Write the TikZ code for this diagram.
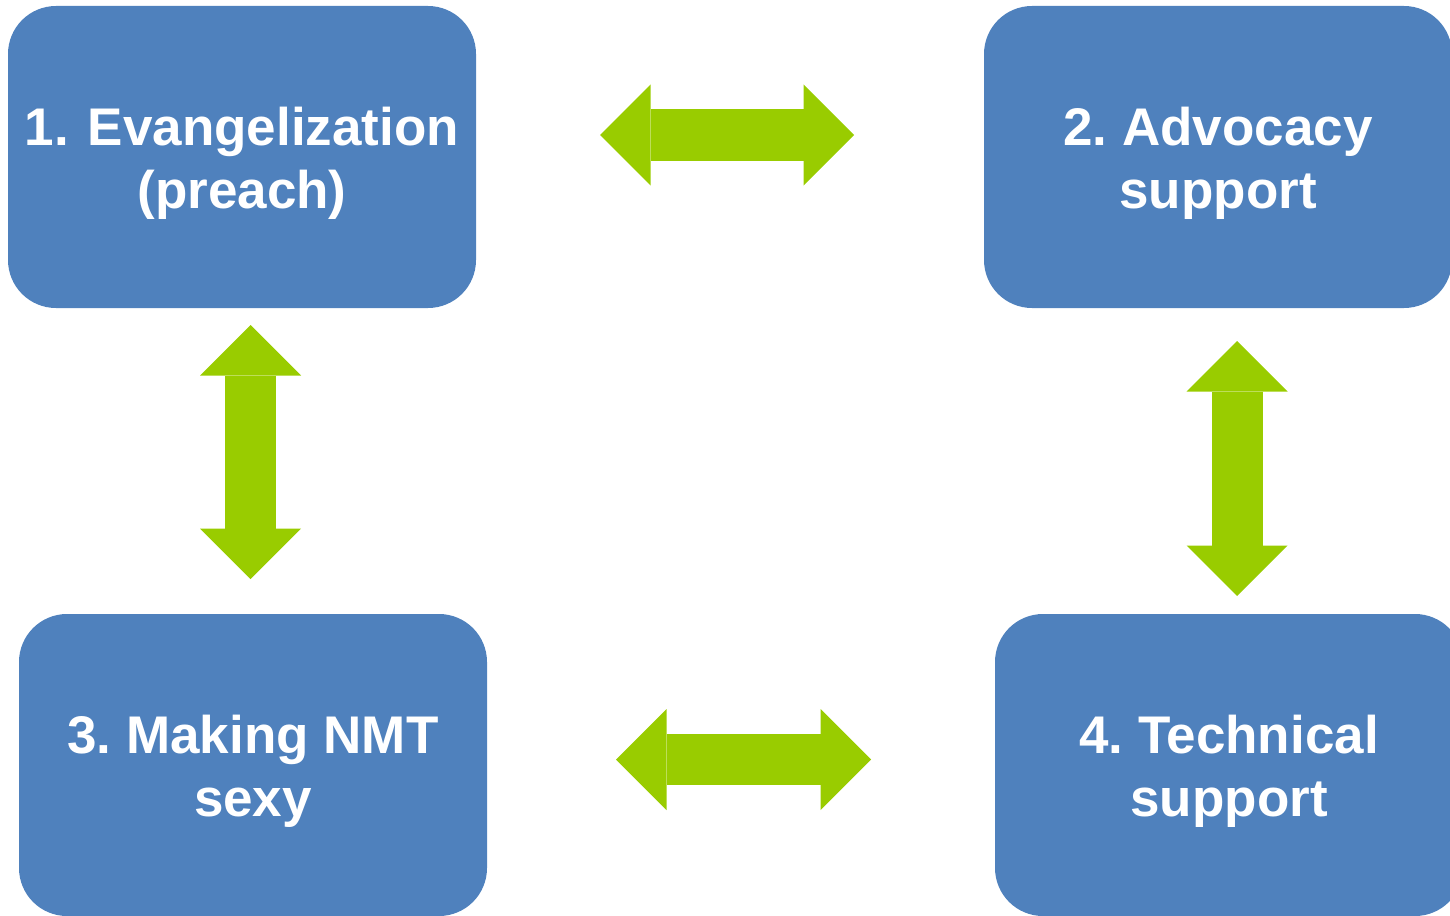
\documentclass[tikz,border=0pt]{standalone}
\usepackage{fontspec}
\setmainfont{Liberation Sans}
\usetikzlibrary{arrows.meta}
\definecolor{boxblue}{HTML}{4F81BD}
\definecolor{linkgreen}{HTML}{99CC00}
\frenchspacing
\tikzset{
	box/.style={fill=boxblue, rounded corners=48pt, minimum width=468pt, minimum height=302pt, inner sep=0pt},
	boxtext/.style={text=white, font=\fontsize{53}{63}\selectfont\bfseries, align=center, inner sep=0pt, anchor=north},
	link/.style={draw=linkgreen, line width=51pt, >={Triangle[width=101pt,length=50.5pt,line width=0pt]}, <->}
}
\begin{document}
\begin{tikzpicture}[x=1pt,y=-1pt]
	\useasboundingbox (0,0) rectangle (1450,915);
	\clip (0,0) rectangle (1450,915);
	% the four boxes
	\node[box] (evang) at (242,157) {};
	\node[box] (advoc) at (1218,157) {};
	\node[box] (nmt) at (253,765) {};
	\node[box] (tech) at (1229,765) {};
	\node[boxtext] (evangtxt) at ([yshift=50pt]evang.center) {1.\ \hspace{4pt}Evangelization\\(preach)};
	\node[boxtext] (advoctxt) at ([yshift=50pt]advoc.center) {2. Advocacy\\support};
	\node[boxtext] (nmttxt) at ([yshift=50pt]nmt.center) {3. Making NMT\\sexy};
	\node[boxtext] (techtxt) at ([yshift=50pt]tech.center) {4. Technical\\support};
	% green double arrows
	\coordinate (ea-l) at (600,135);
	\coordinate (ea-r) at (854,135);
	\coordinate (en-t) at (250.5,325);
	\coordinate (en-b) at (250.5,579);
	\coordinate (at-t) at (1237,341);
	\coordinate (at-b) at (1237,596);
	\coordinate (nt-l) at (616,759.5);
	\coordinate (nt-r) at (871,759.5);
	\draw[link] (ea-l) -- (ea-r);
	\draw[link] (en-t) -- (en-b);
	\draw[link] (at-t) -- (at-b);
	\draw[link] (nt-l) -- (nt-r);
\end{tikzpicture}
\end{document}
